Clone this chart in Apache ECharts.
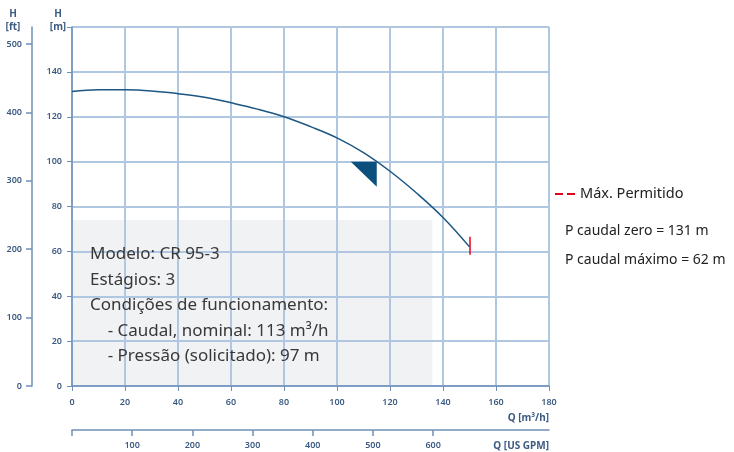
<!DOCTYPE html>
<html>
<head>
<meta charset="utf-8">
<script src="https://cdn.jsdelivr.net/npm/echarts@6/dist/echarts.min.js"></script>
<style>html,body{margin:0;padding:0;background:#fff}#c{width:734px;height:452px}</style>
</head>
<body>
<div id="c"></div>
<script>
// ---- data ----
const flowM3h = [0, 10, 20, 30, 40, 50, 60, 70, 80, 90, 100, 110, 120, 130, 140, 150];
const headM   = [131.3, 132, 132, 131.5, 130.3, 128.7, 126.2, 123.4, 120, 115.6, 110.6, 104, 95.7, 86, 75.1, 62];
const xTicksM3h = [0, 20, 40, 60, 80, 100, 120, 140, 160, 180];
const yTicksM = [0, 20, 40, 60, 80, 100, 120, 140, 160];
const ftTicks = [0, 100, 200, 300, 400, 500];
const gpmTicks = [0, 100, 200, 300, 400, 500, 600];
const dutyMarker = [115, 100];          // triangle position (Q, H)
const maxPoint = [150, 62];             // end of curve (máx. permitido)
const maxMarkRange = [58.5, 66.5];      // vertical extent of red marker (H)
const infoBoxQ = [0, 136];
const infoBoxH = [0, 74];
const infoLines = ['Modelo: CR 95-3', 'Estágios: 3', 'Condições de funcionamento:', '    - Caudal, nominal: 113 m³/h', '    - Pressão (solicitado): 97 m'];
const sideTexts = ['P caudal zero = 131 m', 'P caudal máximo = 62 m'];
const M_TO_FT = 3.28084;
const M3H_TO_GPM = 4.40287;

const AX = '#6f90ba', GRIDC = '#afc7e1', LAB = '#3d5b82', FONT = '"Noto Sans", sans-serif';
const chart = echarts.init(document.getElementById('c'));
const ftInM = ftTicks.map(v => v / M_TO_FT);
const gpmInM3h = gpmTicks.map(v => v / M3H_TO_GPM);
const curve = flowM3h.map((q, i) => [q, headM[i]]);

const labelStyle = {color: LAB, fontSize: 9, fontWeight: 600, fontFamily: FONT};
const nameStyle = {color: LAB, fontSize: 10, fontWeight: 'bold', fontFamily: FONT};

chart.setOption({
  animation: false,
  grid: {left: 72, top: 27, width: 477, height: 359},
  xAxis: [{
    type: 'value', min: 0, max: 180, interval: 20, position: 'bottom', z: 2,
    name: 'Q [m³/h]', nameLocation: 'end', nameGap: 0,
    nameTextStyle: Object.assign({align: 'right', verticalAlign: 'top', padding: [27, 0, 0, 0]}, nameStyle),
    axisLine: {show: true, onZero: false, lineStyle: {color: AX, width: 1.5}},
    axisTick: {show: true, length: 5, lineStyle: {color: AX}},
    axisLabel: Object.assign({margin: 12}, labelStyle),
    splitLine: {show: true, lineStyle: {color: GRIDC, width: 2}}
  }, {
    type: 'value', min: 0, max: 180, position: 'bottom', offset: 44, z: 2,
    name: 'Q [US GPM]', nameLocation: 'end', nameGap: 0,
    nameTextStyle: Object.assign({align: 'right', verticalAlign: 'top', padding: [11, 0, 0, 0]}, nameStyle),
    axisLine: {show: true, onZero: false, lineStyle: {color: AX, width: 1.5}},
    axisTick: {show: true, length: 6, customValues: gpmInM3h, lineStyle: {color: AX, width: 1.5}},
    axisLabel: Object.assign({margin: 11, customValues: gpmInM3h.slice(1), formatter: v => String(Math.round(v * M3H_TO_GPM))}, labelStyle),
    splitLine: {show: false}
  }],
  yAxis: [{
    type: 'value', min: 0, max: 160, interval: 20, position: 'left', z: 2,
    name: 'H\n[m]', nameLocation: 'end', nameGap: -7,
    nameTextStyle: Object.assign({align: 'center', verticalAlign: 'bottom', lineHeight: 13, padding: [0, 28, 0, 0]}, nameStyle),
    axisLine: {show: true, onZero: false, lineStyle: {color: AX, width: 1.5}},
    axisTick: {show: true, length: 5, lineStyle: {color: AX}},
    axisLabel: Object.assign({margin: 10, formatter: v => v === 160 ? '' : String(v)}, labelStyle),
    splitLine: {show: true, lineStyle: {color: GRIDC, width: 2}}
  }, {
    type: 'value', min: 0, max: 160, position: 'left', offset: 40, z: 2,
    name: 'H\n[ft]', nameLocation: 'end', nameGap: -7,
    nameTextStyle: Object.assign({align: 'center', verticalAlign: 'bottom', lineHeight: 13, padding: [0, 38, 0, 0]}, nameStyle),
    axisLine: {show: true, onZero: false, lineStyle: {color: AX, width: 1.5}},
    axisTick: {show: true, length: 6, customValues: ftInM, lineStyle: {color: AX, width: 1.5}},
    axisLabel: Object.assign({margin: 10, customValues: ftInM, formatter: v => String(Math.round(v * M_TO_FT))}, labelStyle),
    splitLine: {show: false}
  }],
  series: [{
    name: 'info', type: 'line', data: [], z: 1, silent: true,
    markArea: {silent: true, z: 1, itemStyle: {color: '#f1f2f4'}, label: {show: false},
      data: [[{coord: [infoBoxQ[0], infoBoxH[1]]}, {coord: [infoBoxQ[1], infoBoxH[0]]}]]}
  }, {
    name: 'curve', type: 'line', data: curve, smooth: 0.4, showSymbol: false, symbol: 'none',
    lineStyle: {color: '#1c5682', width: 1.5}, z: 5,
    markLine: {silent: true, symbol: 'none', label: {show: false}, z: 6,
      lineStyle: {color: '#e3001b', width: 1.5, type: 'solid'},
      data: [[{coord: [maxPoint[0], maxMarkRange[0]]}, {coord: [maxPoint[0], maxMarkRange[1]]}]]}
  }, {
    name: 'duty', type: 'scatter', data: [dutyMarker], z: 6,
    symbol: 'path://M0,0 L10,0 L10,10 Z', symbolSize: [26, 25], symbolOffset: [-13, 12.5],
    itemStyle: {color: '#0b4f7c', opacity: 1}
  }],
  graphic: [
    ...infoLines.map((t, i) => ({type: 'text', z: 100, left: 90, top: 246 + i * 25.5,
      style: {text: t, fill: '#383838', font: '17px "Noto Sans", sans-serif'}})),
    {type: 'line', shape: {x1: 555, y1: 194, x2: 563, y2: 194}, style: {stroke: '#e3001b', lineWidth: 2}},
    {type: 'line', shape: {x1: 567, y1: 194, x2: 575, y2: 194}, style: {stroke: '#e3001b', lineWidth: 2}},
    {type: 'text', left: 580, top: 186, style: {text: 'Máx. Permitido', fill: '#222', font: '14.5px "Noto Sans", sans-serif'}},
    ...sideTexts.map((t, i) => ({type: 'text', left: 565, top: 224 + i * 29,
      style: {text: t, fill: '#222', font: '14px "Noto Sans", sans-serif'}}))
  ]
});
</script>
</body>
</html>
